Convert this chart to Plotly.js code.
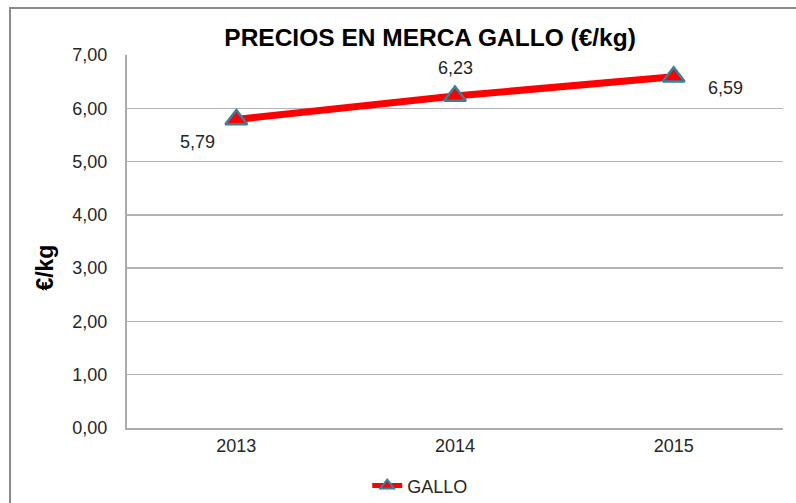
<!DOCTYPE html>
<html>
<head>
<meta charset="utf-8">
<script src="https://cdn.plot.ly/plotly-3.0.1.min.js"></script>
<style>
html,body{margin:0;padding:0;background:#fff;overflow:hidden;}
#frame{position:absolute;left:9px;top:7px;width:900px;height:600px;border:2px solid #8C8C8C;box-sizing:border-box;}
#chart{position:absolute;left:0;top:0;width:796px;height:503px;}
</style>
</head>
<body>
<div id="frame"></div>
<div id="chart"></div>
<script>
const years = ['2013', '2014', '2015'];
const gallo = [5.79, 6.23, 6.59];
const labelTexts = ['5,79', '6,23', '6,59'];
const yTicks = [0, 1, 2, 3, 4, 5, 6, 7];

const FONT = 'Liberation Sans, Arial, sans-serif';
const labelShifts = [[-39, -23], [0, 28], [52, -11]];

const trace = {
  x: years,
  y: gallo,
  type: 'scatter',
  mode: 'lines+markers',
  name: 'GALLO',
  line: {color: '#FF0000', width: 7},
  marker: {symbol: 'triangle-up', size: 19, color: '#FF0000', line: {color: '#31849B', width: 2.5}},
  hoverinfo: 'skip'
};

const annotations = years.map((yr, i) => ({
  x: i, y: gallo[i], xref: 'x', yref: 'y',
  text: labelTexts[i], showarrow: false,
  xshift: labelShifts[i][0], yshift: labelShifts[i][1],
  font: {family: FONT, size: 18, color: '#262626'}
}));
annotations.push({
  xref: 'paper', yref: 'paper', x: -0.125, y: 0.43,
  text: '<b>€/kg</b>', textangle: -90, showarrow: false,
  xanchor: 'center', yanchor: 'middle',
  font: {family: FONT, size: 23, color: '#000'}
});

const layout = {
  width: 796, height: 503,
  margin: {l: 127, r: 13, t: 55, b: 75},
  paper_bgcolor: 'rgba(0,0,0,0)',
  plot_bgcolor: 'rgba(0,0,0,0)',
  title: {
    text: '<b>PRECIOS EN MERCA GALLO (€/kg)</b>',
    font: {family: FONT, size: 24.5, color: '#000'},
    x: 0.462, xanchor: 'center', xref: 'paper',
    y: 0.926, yanchor: 'middle', yref: 'container'
  },
  separators: ',.',
  xaxis: {
    type: 'category',
    range: [-0.5, 2.5],
    showgrid: false,
    showline: true, linecolor: '#ABABAB', linewidth: 2,
    ticks: '',
    tickfont: {family: FONT, size: 18, color: '#262626'},
    fixedrange: true
  },
  yaxis: {
    range: [0, 7],
    tickvals: yTicks,
    tickformat: '.2f',
    showgrid: true, gridcolor: '#B4B4B4', gridwidth: 1.5,
    showline: true, linecolor: '#ABABAB', linewidth: 2,
    zeroline: false,
    ticks: '',
    ticklabelstandoff: 14,
    tickfont: {family: FONT, size: 18, color: '#262626'},
    fixedrange: true
  },
  showlegend: true,
  legend: {
    orientation: 'h',
    x: 0.447, xanchor: 'center', xref: 'paper',
    y: 0.034, yanchor: 'middle', yref: 'container',
    itemsizing: 'constant',
    font: {family: FONT, size: 18, color: '#262626'},
    bgcolor: 'rgba(0,0,0,0)'
  },
  annotations: annotations
};

Plotly.newPlot('chart', [trace], layout, {displayModeBar: false, staticPlot: true});
</script>
</body>
</html>
